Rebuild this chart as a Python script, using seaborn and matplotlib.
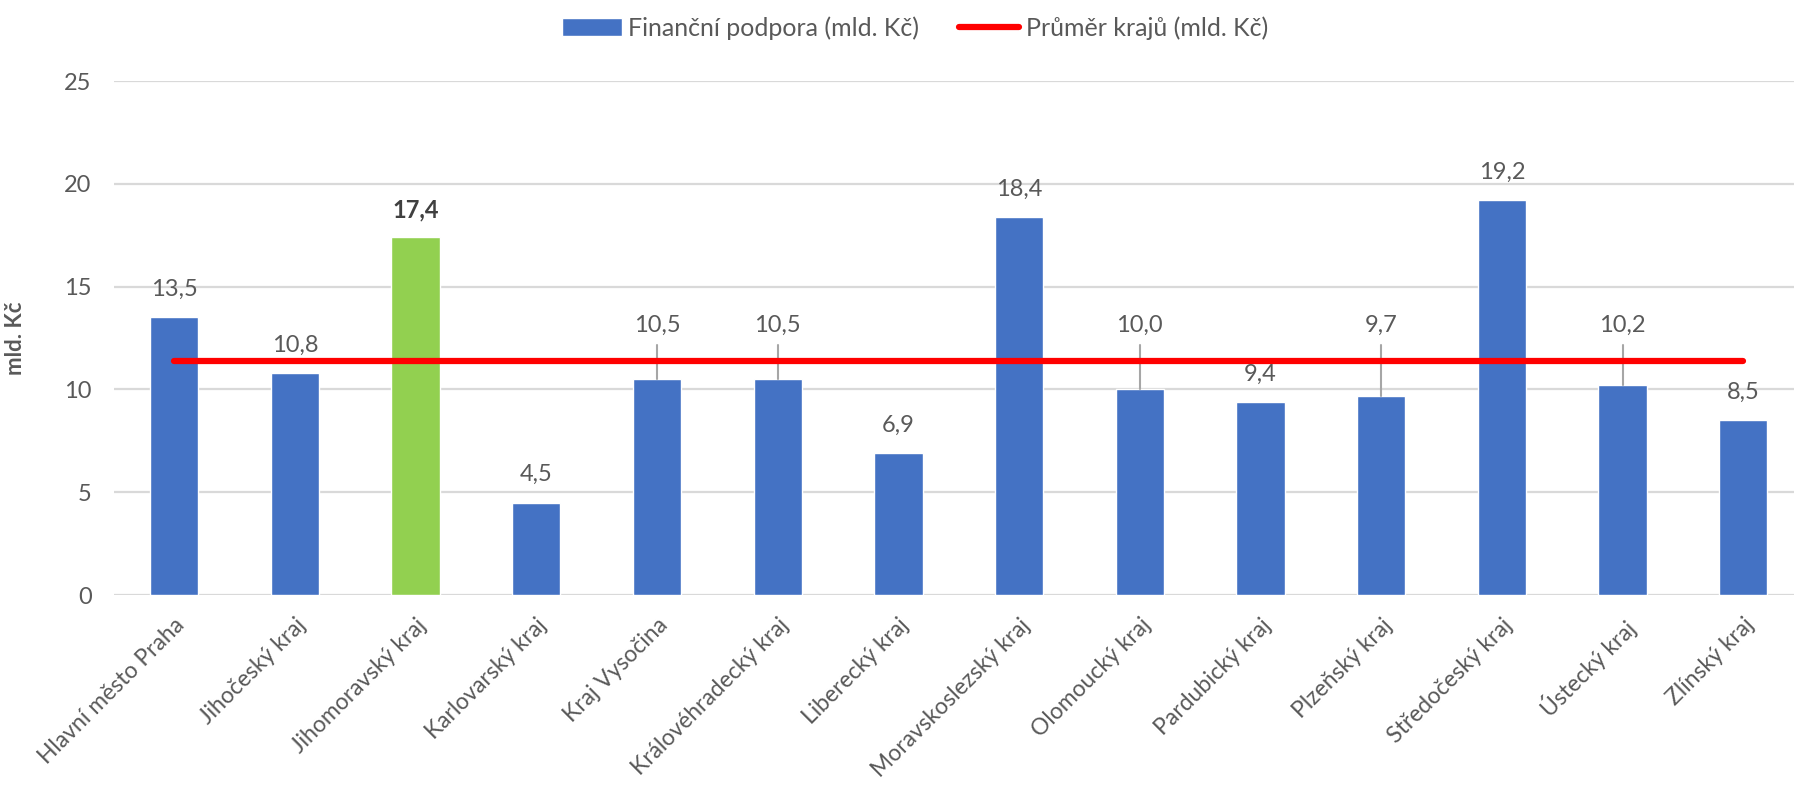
import numpy as np
import pandas as pd
import matplotlib
matplotlib.use('Agg')
import matplotlib.pyplot as plt
import seaborn as sns
from matplotlib.patches import Patch
from matplotlib.lines import Line2D

# ============================================================
# DATA
# ============================================================

regions = [
    'Hlavní město Praha', 'Jihočeský kraj', 'Jihomoravský kraj',
    'Karlovarský kraj', 'Kraj Vysočina', 'Královéhradecký kraj',
    'Liberecký kraj', 'Moravskoslezský kraj', 'Olomoucký kraj',
    'Pardubický kraj', 'Plzeňský kraj', 'Středočeský kraj',
    'Ústecký kraj', 'Zlínský kraj',
]
support = [13.5, 10.8, 17.4, 4.5, 10.5, 10.5, 6.9, 18.4, 10.0, 9.4, 9.7, 19.2, 10.2, 8.5]
highlight = 'Jihomoravský kraj'
# labels moved above the average line (with a leader line)
lifted = ['Kraj Vysočina', 'Královéhradecký kraj', 'Olomoucký kraj',
          'Plzeňský kraj', 'Ústecký kraj']

bar_label = 'Finanční podpora (mld. Kč)'
avg_label = 'Průměr krajů (mld. Kč)'
y_label = 'mld. Kč'
y_ticks = [0, 5, 10, 15, 20, 25]

df = pd.DataFrame({'region': regions, 'value': support})
avg = df['value'].mean()

# ============================================================
# STYLE
# ============================================================

BLUE, GREEN, RED = '#4472C4', '#92D050', '#FF0000'
TXT, GRID = '#595959', '#D9D9D9'

sns.set_style('white')
plt.rcParams['font.family'] = ['Lato', 'DejaVu Sans']

fig = plt.figure(figsize=(17.94, 7.9), dpi=100)
ax = fig.add_axes([0.0634, 0.2468, 0.942, 0.6506])

colors = [GREEN if r == highlight else BLUE for r in regions]
sns.barplot(data=df, x='region', y='value', hue='region', palette=colors,
            legend=False, width=0.4, saturation=1, ax=ax, zorder=2)

x = np.arange(len(regions))
sns.lineplot(x=x, y=np.full(len(regions), avg), color=RED, linewidth=4.5,
             ax=ax, zorder=4, solid_capstyle='round')

# data labels
for i, (r, v) in enumerate(zip(regions, support)):
    txt = f'{v:.1f}'.replace('.', ',')
    bold = r == highlight
    if r in lifted:
        ty = 13.1
        ax.plot([i, i], [ty - 0.95, v], color='#A6A6A6', lw=1.5, zorder=3)
    else:
        ty = v + 1.35
    ax.text(i, ty, txt, ha='center', va='center', fontsize=17,
            color='#404040' if bold else TXT,
            fontweight='bold' if bold else 'normal', zorder=5)

ax.set_xlim(-0.5, len(regions) - 0.5)
ax.set_ylim(0, 25)
ax.set_yticks(y_ticks)
ax.grid(axis='y', color=GRID, linewidth=1.6, zorder=0)
ax.set_axisbelow(True)
sns.despine(ax=ax, left=True, bottom=True, top=True, right=True)

ax.set_xlabel('')
ax.set_ylabel(y_label, fontsize=16, fontweight='bold', color=TXT)
ax.yaxis.set_label_coords(-0.052, 0.5)
ax.tick_params(axis='y', labelsize=17, labelcolor=TXT, length=0, pad=16)
ax.tick_params(axis='x', labelsize=16.5, labelcolor=TXT, length=0, pad=14)
plt.setp(ax.get_xticklabels(), rotation=45, ha='right', rotation_mode='anchor')

handles = [Patch(facecolor=BLUE, label=bar_label),
           Line2D([0], [0], color=RED, lw=4.5, solid_capstyle='round', label=avg_label)]
fig.legend(handles=handles, loc='upper center', bbox_to_anchor=(0.51, 1.008), ncol=2,
           frameon=False, fontsize=18, labelcolor=TXT, handlelength=2.4,
           handletextpad=0.25, columnspacing=1.6)

plt.savefig('out.png', dpi=100)
plt.close()
